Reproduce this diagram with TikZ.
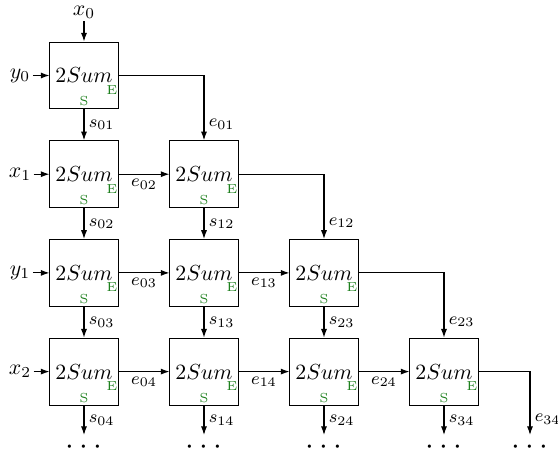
\documentclass[tikz,border=0pt]{standalone}
\usetikzlibrary{arrows.meta}
\definecolor{tagcolor}{RGB}{30,128,30}
\begin{document}
\begin{tikzpicture}[x=0.4587pt,y=-0.4587pt,
  sumbox/.style={draw, line width=0.45pt, minimum width=31.2pt, minimum height=30.7pt, inner sep=0pt},
  tag/.style={font=\fontsize{6}{7}\selectfont, text=tagcolor, inner sep=0pt},
  arr/.style={line width=0.5pt, -{Latex[length=4pt,width=2.8pt]}},
  lbl/.style={font=\footnotesize, inner sep=2pt},
  inlbl/.style={inner sep=1pt},
  dotsty/.style={font=\fontsize{15}{17}\selectfont, inner sep=0pt}]
\useasboundingbox (0,0) rectangle (558,457);
% boxes
\foreach \r in {0,...,3}{
  \foreach \c in {0,...,\r}{
    \pgfmathsetmacro\xc{84+120*\c}
    \pgfmathsetmacro\yc{75.5+98.7*\r}
    \node[sumbox] (b\r\c) at (\xc,\yc) {$2Sum$};
    \node[tag] (E\r\c) at (\xc+28,\yc+14.5) {E};
    \node[tag] (S\r\c) at (\xc,\yc+26) {S};
  }
}
% inputs
\node[inlbl] (x0) at (84,12.5) {$x_0$};
\draw[arr] (x0) -- (b00);
\node[inlbl] (in0) at (20,75.5) {$y_0$};
\node[inlbl] (in1) at (20,174.2) {$x_1$};
\node[inlbl] (in2) at (20,272.9) {$y_1$};
\node[inlbl] (in3) at (20,371.6) {$x_2$};
\foreach \r in {0,...,3}{ \draw[arr] (in\r) -- (b\r0); }
% vertical s arrows
\foreach \r in {0,...,2}{
  \pgfmathtruncatemacro\rn{\r+1}
  \foreach \c in {0,...,\r}{
    \draw[arr] (b\r\c) -- node[lbl,right]{$s_{\c\rn}$} (b\rn\c);
  }
}
\foreach \c in {0,...,3}{
  \pgfmathsetmacro\xc{84+120*\c}
  \coordinate (ds\c) at (\xc,435);
  \node[dotsty] (dot\c) at (\xc,448) {$\cdots$};
  \draw[arr] (b3\c) -- node[lbl,right]{$s_{\c4}$} (ds\c);
}
% horizontal e arrows
\foreach \r in {1,...,3}{
  \pgfmathtruncatemacro\rn{\r+1}
  \pgfmathtruncatemacro\cm{\r-1}
  \foreach \c in {0,...,\cm}{
    \pgfmathtruncatemacro\d{\c+1}
    \draw[arr] (b\r\c) -- node[lbl,below]{$e_{\c\rn}$} (b\r\d);
  }
}
% diagonal e arrows
\foreach \r in {0,...,2}{
  \pgfmathtruncatemacro\rn{\r+1}
  \draw[arr] (b\r\r.east) -| node[lbl,right,pos=0.875]{$e_{\r\rn}$} (b\rn\rn.north);
}
\coordinate (de) at (530,435);
\node[dotsty] (dote) at (530,448) {$\cdots$};
\draw[arr] (b33.east) -| node[lbl,right,pos=0.875]{$e_{34}$} (de);
\end{tikzpicture}
\end{document}
